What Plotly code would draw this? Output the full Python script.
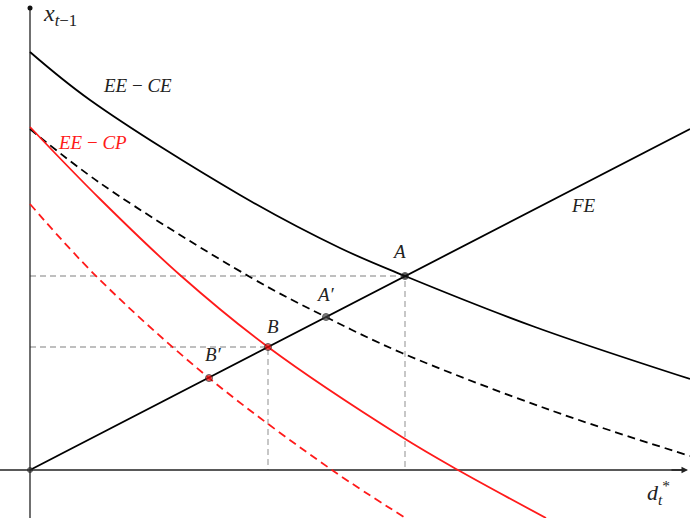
import plotly.graph_objects as go

# ---- data (units are arbitrary) ----
ee_ce_x = [0, 60, 210, 310, 375, 505, 660]
ee_ce_y = [418, 370, 275, 222, 194, 143, 91]

ee_ce_shift_x = [0, 70, 220, 296, 372, 520, 660]
ee_ce_shift_y = [341, 287, 193, 153, 117, 60, 14]

ee_cp_x = [0, 70, 150, 238, 372, 428, 516]
ee_cp_y = [343, 271, 195, 123, 33, 0, -48]

ee_cp_shift_x = [0, 67, 179, 302, 374]
ee_cp_shift_y = [266, 193, 92, 0, -47]

fe_x = [0, 660]
fe_y = [0, 341]

pt_names = ["A", "A'", "B", "B'"]
pt_x = [375, 296, 238, 179]
pt_y = [194, 153, 123, 92]

XMIN, XMAX = -30, 660
YMIN, YMAX = -48, 470

SERIF = "Liberation Serif, DejaVu Serif, Times New Roman, serif"
fig = go.Figure()

# guide lines (gray dashed)
for (gx, gy) in [(pt_x[0], pt_y[0]), (pt_x[2], pt_y[2])]:
    fig.add_trace(go.Scatter(x=[0, gx, gx], y=[gy, gy, 0], mode="lines",
                             line=dict(color="#aaaaaa", width=1.3, dash="6px,4px"),
                             hoverinfo="skip", showlegend=False))

# axes
fig.add_trace(go.Scatter(x=[XMIN, XMAX - 6], y=[0, 0], mode="lines",
                         line=dict(color="#222222", width=1.3), showlegend=False))
fig.add_trace(go.Scatter(x=[0, 0], y=[YMIN, 462], mode="lines",
                         line=dict(color="#222222", width=1.3), showlegend=False))
fig.add_annotation(x=XMAX - 2, y=0, ax=XMAX - 20, ay=0, xref="x", yref="y",
                   axref="x", ayref="y", showarrow=True, arrowhead=2,
                   arrowsize=1, arrowwidth=1.3, arrowcolor="#222222", text="")
fig.add_trace(go.Scatter(x=[0], y=[462], mode="markers",
                         marker=dict(color="#111111", size=5), showlegend=False))

# curves
fig.add_trace(go.Scatter(x=ee_ce_x, y=ee_ce_y, mode="lines", line_shape="spline",
                         line=dict(color="black", width=1.8), showlegend=False))
fig.add_trace(go.Scatter(x=ee_ce_shift_x, y=ee_ce_shift_y, mode="lines", line_shape="spline",
                         line=dict(color="black", width=1.8, dash="8px,5px"), showlegend=False))
fig.add_trace(go.Scatter(x=ee_cp_x, y=ee_cp_y, mode="lines", line_shape="spline",
                         line=dict(color="#ff1a1a", width=1.8), showlegend=False))
fig.add_trace(go.Scatter(x=ee_cp_shift_x, y=ee_cp_shift_y, mode="lines", line_shape="spline",
                         line=dict(color="#ff1a1a", width=1.8, dash="8px,5px"), showlegend=False))
fig.add_trace(go.Scatter(x=fe_x, y=fe_y, mode="lines",
                         line=dict(color="black", width=1.8), showlegend=False))

# points
pt_colors = ["#111111", "#444444", "#ee1111", "#ee1111"]
fig.add_trace(go.Scatter(x=pt_x + [0], y=pt_y + [0], mode="markers",
                         marker=dict(color=pt_colors + ["#333333"], size=[7, 7, 7, 7, 5],
                                     line=dict(color="#222222", width=1)),
                         showlegend=False))

# labels
def lab(txt, x, y, color="#222222", size=19):
    fig.add_annotation(x=x, y=y, text=txt, showarrow=False, xref="x", yref="y",
                       font=dict(family=SERIF, size=size, color=color))

lab("<i>x</i><sub><i>t</i>−1</sub>", 30, 455, size=24)
lab("<i>EE</i> − <i>CE</i>", 107, 385)
lab("<i>EE</i> − <i>CP</i>", 62, 328, color="#ff1a1a")
lab("<i>FE</i>", 553, 265)
lab("<i>A</i>", 369, 219)
lab("<i>A′</i>", 295, 176)
lab("<i>B</i>", 243, 144)
lab("<i>B′</i>", 183, 116)
lab("<i>d</i><sub><i>t</i></sub><sup>*</sup>", 628, -22, size=22)

fig.update_layout(width=690, height=518, margin=dict(l=0, r=0, t=0, b=0),
                  paper_bgcolor="white", plot_bgcolor="white",
                  font=dict(family=SERIF),
                  xaxis=dict(range=[XMIN, XMAX], visible=False, fixedrange=True),
                  yaxis=dict(range=[YMIN, YMAX], visible=False, fixedrange=True))

fig.write_html("out.html", config={"displayModeBar": False, "staticPlot": True})

# remove the browser's default page margin so the figure sits at (0, 0)
with open("out.html", encoding="utf-8") as f:
    html = f.read()
html = html.replace("<body>", '<body style="margin:0;padding:0;overflow:hidden">', 1)
with open("out.html", "w", encoding="utf-8") as f:
    f.write(html)
